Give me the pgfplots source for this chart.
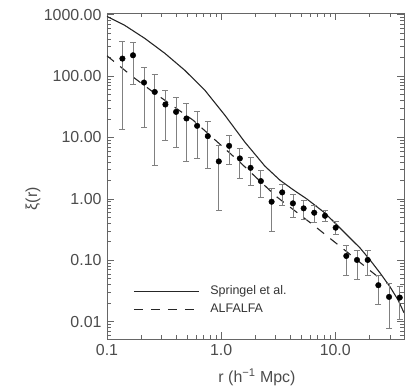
\documentclass[border=0pt]{standalone}
\usepackage{fontspec}
\setmainfont{Liberation Sans}
\usepackage{pgfplots}
\usepackage{pgfplotstable}
\pgfplotsset{compat=1.18}

% ALFALFA points: r, xi, upper and lower end of the error bar
\pgfplotstableread{
r      xi      hi      lo
0.1365 191.8   370.8   13.6
0.169  217.1   357.2   72.5
0.211  78.1    140.0   14.8
0.262  54.9    106.6   3.44
0.325  34.3    57.9    9.00
0.403  26.0    45.0    6.93
0.497  20.3    36.4    4.06
0.616  15.4    26.0    4.54
0.764  10.46   17.9    3.12
0.954  4.06    7.47    0.655
1.175  7.27    10.86   3.67
1.459  4.54    6.67    2.15
1.811  3.19    4.71    1.67
2.229  1.94    2.85    1.05
2.768  0.894   1.45    0.298
3.428  1.27    1.71    0.770
4.255  0.842   1.18    0.498
5.283  0.698   0.928   0.462
6.543  0.592   0.770   0.407
8.122  0.529   0.638   0.434
10.08  0.338   0.423   0.264
12.49  0.117   0.177   0.056
15.50  0.1008  0.1465  0.0495
19.24  0.1008  0.143   0.056
23.84  0.0391  0.0574  0.0187
29.59  0.0252  0.0421  0.00781
36.72  0.0246  0.0371  0.01066
}\alfalfapts

\pgfplotstableread{
r      xi
0.100  934
0.143  667
0.214  410
0.321  234
0.480  123.8
0.720  58.6
1.078  22.96
1.614  8.36
2.417  3.40
3.273  2.01
4.255  1.41
5.647  0.989
8.12   0.586
10.35  0.374
12.66  0.257
16.47  0.158
20.16  0.1008
24.67  0.0619
30.19  0.0367
35.48  0.0225
40.05  0.01385
}\springel

\pgfplotstableread{
r      xi
0.100  213
0.169  96.3
0.253  54.9
0.568  19.05
1.459  3.95
3.062  1.078
6.41   0.374
12.59  0.1375
23.69  0.0533
}\alfalfafit

\begin{document}
\fontsize{16}{19}\selectfont
\begin{tikzpicture}
  \begin{axis}[
    xmode=log, ymode=log,
    scale only axis,
    width=297bp, height=326bp,
    xmin=0.1, xmax=40,
    ymin=0.0052, ymax=1060,
    axis line style={black!60},
    every tick/.style={black!60},
    tick pos=both,
    tick align=inside,
    major tick length=7bp,
    minor tick length=4bp,
    xtick={0.1,1,10},
    xticklabels={0.1,1.0,10.0},
    minor xtick={0.2,0.3,0.4,0.5,0.6,0.7,0.8,0.9,2,3,4,5,6,7,8,9,20,30,40},
    ytick={0.01,0.1,1,10,100,1000},
    yticklabels={0.01,0.10,1.00,10.00,100.00,1000.00},
    minor ytick={0.006,0.007,0.008,0.009,
      0.02,0.03,0.04,0.05,0.06,0.07,0.08,0.09,
      0.2,0.3,0.4,0.5,0.6,0.7,0.8,0.9,
      2,3,4,5,6,7,8,9,
      20,30,40,50,60,70,80,90,
      200,300,400,500,600,700,800,900},
    ticklabel style={text=black!70},
    xlabel={r (h\textsuperscript{−1} Mpc)},
    ylabel={ξ(r)},
    label style={text=black!70},
    xlabel style={at={(axis description cs:0.505,-0.117)}, anchor=center},
    ylabel style={at={(axis description cs:-0.249,0.43)}, anchor=center},
    legend style={at={(axis description cs:0.088,0.118)}, anchor=west,
      draw=none, fill=none, inner sep=0pt,
      font=\fontsize{12.5}{14}\selectfont, text=black!80,
      row sep=3bp,
      /tikz/every odd column/.append style={column sep=9bp}},
    legend cell align=left,
    legend image code/.code={\draw[#1] (0bp,0bp) -- (65bp,0bp);},
  ]
    \addplot[black!85, line width=1.1bp] table[x=r, y=xi] {\springel};
    \addlegendentry{Springel et al.}
    \addplot[black!85, line width=1.1bp, dash pattern=on 9bp off 8bp] table[x=r, y=xi] {\alfalfafit};
    \addlegendentry{ALFALFA}
    \addplot[forget plot, only marks, mark=*, mark size=2.8bp, black,
      error bars/.cd, y dir=both, y explicit,
      error bar style={black!50, line width=0.8bp},
      error mark options={rotate=90, black!50, mark size=3bp, line width=0.8bp}]
      table[x=r, y=xi,
        y error plus expr=\thisrow{hi}-\thisrow{xi},
        y error minus expr=\thisrow{xi}-\thisrow{lo}] {\alfalfapts};
  \end{axis}
  \path (current axis.south west) ++(-107bp,-44bp);
  \path (current axis.north east) ++(11bp,13bp);
\end{tikzpicture}
\end{document}
